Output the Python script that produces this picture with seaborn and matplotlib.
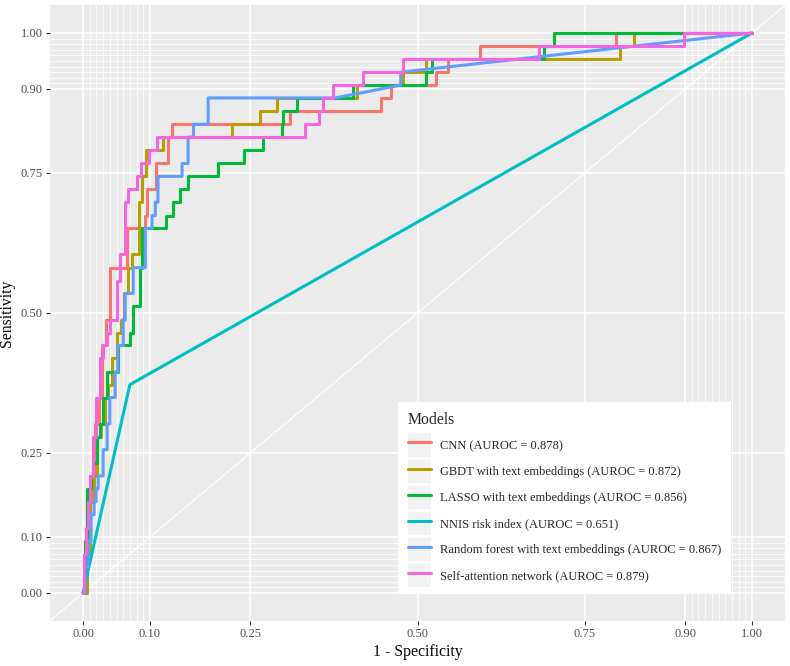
import numpy as np
import pandas as pd
import matplotlib
matplotlib.use("Agg")
import matplotlib.pyplot as plt
import seaborn as sns
from matplotlib.lines import Line2D
from matplotlib.patches import Rectangle
from matplotlib.legend_handler import HandlerLine2D
from matplotlib.ticker import FixedLocator

# model names as shown in the legend
models = ["CNN (AUROC = 0.878)",
          "GBDT with text embeddings (AUROC = 0.872)",
          "LASSO with text embeddings (AUROC = 0.856)",
          "NNIS risk index (AUROC = 0.651)",
          "Random forest with text embeddings (AUROC = 0.867)",
          "Self-attention network (AUROC = 0.879)"]
colors = ["#F8766D", "#B79F00", "#00BA38", "#00BFC4", "#619CFF", "#F564E3"]

# ROC points (1 - specificity, sensitivity)
cnn_fpr = [0, .003, .003, .0075, .0075, .012, .012, .018, .018, .024, .024, .028, .028, .034, .034,
           .040, .040, .066, .066, .093, .093, .096, .096, .109, .109, .127, .127, .133, .133, .310,
           .310, .445, .445, .460, .460, .527, .527, .546, .546, .594, .594, .796, .796, 1.0]
cnn_tpr = [0, 0, .093, .093, .163, .163, .209, .209, .302, .302, .349, .349, .442, .442, .488,
           .488, .581, .581, .651, .651, .674, .674, .721, .721, .767, .767, .814, .814, .837, .837,
           .860, .860, .884, .884, .907, .907, .930, .930, .953, .953, .977, .977, 1.0, 1.0]

gbdt_fpr = [0, .006, .006, .0105, .0105, .0165, .0165, .021, .021, .027, .027, .033, .033, .037, .037,
            .043, .043, .051, .051, .057, .057, .061, .061, .067, .067, .073, .073, .084, .084, .088,
            .088, .094, .094, .120, .120, .223, .223, .265, .265, .290, .290, .410, .410, .479, .479,
            .512, .512, .802, .802, .823, .823, 1.0]
gbdt_tpr = [0, 0, .070, .070, .163, .163, .209, .209, .279, .279, .302, .302, .349, .349, .372,
            .372, .419, .419, .465, .465, .488, .488, .535, .535, .581, .581, .605, .605, .698, .698,
            .744, .744, .791, .791, .814, .814, .837, .837, .860, .860, .884, .884, .907, .907, .930,
            .930, .953, .953, .977, .977, 1.0, 1.0]

lasso_fpr = [0, .003, .003, .006, .006, .012, .012, .015, .015, .021, .021, .0255, .0255, .030, .030,
             .036, .036, .052, .052, .070, .070, .075, .075, .085, .085, .088, .088, .124, .124, .135,
             .135, .145, .145, .157, .157, .202, .202, .240, .240, .269, .269, .298, .298, .299, .299,
             .320, .320, .404, .404, .512, .512, .522, .522, .689, .689, .704, .704, 1.0]
lasso_tpr = [0, 0, .093, .093, .186, .186, .209, .209, .233, .233, .279, .279, .302, .302, .349,
             .349, .395, .395, .442, .442, .465, .465, .512, .512, .581, .581, .651, .651, .674, .674,
             .698, .698, .721, .721, .744, .744, .767, .767, .791, .791, .814, .814, .837, .837, .860,
             .860, .884, .884, .907, .907, .930, .930, .953, .953, .977, .977, 1.0, 1.0]

nnis_fpr = [0, .070, 1.0]
nnis_tpr = [0, .372, 1.0]

rf_fpr = [0, .003, .003, .0075, .0075, .012, .012, .0165, .0165, .0195, .0195, .0225, .0225, .030, .030,
          .036, .036, .040, .040, .048, .048, .052, .052, .060, .060, .063, .063, .075, .075, .093,
          .093, .103, .103, .108, .108, .112, .112, .148, .148, .157, .157, .165, .165, .187, .187,
          .377, .475, .475, 1.0]
rf_tpr = [0, 0, .047, .047, .093, .093, .140, .140, .163, .163, .186, .186, .209, .209, .256,
          .256, .302, .302, .349, .349, .395, .395, .442, .442, .488, .488, .535, .535, .581, .581,
          .651, .651, .674, .674, .698, .698, .744, .744, .767, .767, .814, .814, .837, .837, .884,
          .884, .907, .930, 1.0]

sa_fpr = [0, .0015, .0015, .0045, .0045, .0075, .0075, .0105, .0105, .015, .015, .0195, .0195, .0255, .0255,
          .030, .030, .036, .036, .040, .040, .051, .051, .055, .055, .063, .063, .067, .067, .081,
          .081, .087, .087, .099, .099, .111, .111, .332, .332, .352, .352, .359, .359, .374, .374,
          .418, .418, .479, .479, .681, .681, .898, .898, 1.0]
sa_tpr = [0, 0, .070, .070, .116, .116, .163, .163, .209, .209, .279, .279, .349, .349, .419,
          .419, .442, .442, .465, .465, .488, .488, .558, .558, .605, .605, .698, .698, .721, .721,
          .744, .744, .767, .767, .791, .791, .814, .814, .837, .837, .860, .860, .884, .884, .907,
          .907, .930, .930, .953, .953, .977, .977, 1.0, 1.0]

fprs = [cnn_fpr, gbdt_fpr, lasso_fpr, nnis_fpr, rf_fpr, sa_fpr]
tprs = [cnn_tpr, gbdt_tpr, lasso_tpr, nnis_tpr, rf_tpr, sa_tpr]

frames = []
for name, f, t in zip(models, fprs, tprs):
    frames.append(pd.DataFrame({"fpr": f, "tpr": t, "Models": name}))
df = pd.concat(frames, ignore_index=True)

sns.set_theme(style="darkgrid")
plt.rcParams["font.family"] = ["Liberation Serif", "DejaVu Serif"]
plt.rcParams["axes.facecolor"] = "#EBEBEB"

fig = plt.figure(figsize=(7.9, 6.66), dpi=100)
ax = fig.add_axes([0.0628, 0.0676, 0.9314, 0.9249])

ax.axline((0, 0), slope=1, color="white", linewidth=0.9, zorder=1.5)
sns.lineplot(data=df, x="fpr", y="tpr", hue="Models", hue_order=models, palette=colors,
             sort=False, estimator=None, linewidth=2.2, legend=False, ax=ax, zorder=2)

breaks = [0, 0.1, 0.25, 0.5, 0.75, 0.9, 1.0]
minor = [round(0.01 * i, 2) for i in range(1, 10)] + [round(0.9 + 0.01 * i, 2) for i in range(1, 10)]
ax.set_xlim(-0.05, 1.05)
ax.set_ylim(-0.05, 1.05)
ax.set_xticks(breaks)
ax.set_yticks(breaks)
ax.set_xticklabels(["%.2f" % b for b in breaks])
ax.set_yticklabels(["%.2f" % b for b in breaks])
ax.xaxis.set_minor_locator(FixedLocator(minor))
ax.yaxis.set_minor_locator(FixedLocator(minor))
ax.grid(which="major", color="white", linewidth=1.1)
ax.grid(which="minor", color="white", linewidth=0.55)
ax.set_axisbelow(True)
for s in ax.spines.values():
    s.set_visible(False)
ax.tick_params(which="major", length=3, width=0.8, color="#333333", labelcolor="#4D4D4D",
               labelsize=9, pad=2, bottom=True, left=True)
ax.tick_params(which="minor", length=0)
ax.set_xlabel("1 - Specificity", fontsize=11.3, color="black", labelpad=3)
ax.set_ylabel("Sensitivity", fontsize=11.3, color="black", labelpad=4)


class KeyHandler(HandlerLine2D):
    # grey square behind each legend key, like ggplot
    def create_artists(self, legend, orig_handle, xdescent, ydescent, width, height, fontsize, trans):
        d = 0.2 * fontsize
        bg = Rectangle((-xdescent, -ydescent - d), width, height + 2 * d, facecolor="#F2F2F2",
                       edgecolor="none", transform=trans)
        arts = super().create_artists(legend, orig_handle, xdescent, ydescent, width, height,
                                      fontsize, trans)
        return [bg] + list(arts)


handles = [Line2D([], [], color=c, linewidth=2.2) for c in colors]
leg = ax.legend(handles, models, title="Models", loc="lower left",
                bbox_to_anchor=(0.4735, 0.0438), fontsize=9, title_fontsize=11.3,
                alignment="left", frameon=True, fancybox=False, framealpha=1,
                handlelength=1.9, handleheight=1.85, handletextpad=0.7,
                labelspacing=0.64, borderpad=0.76, borderaxespad=0,
                handler_map={Line2D: KeyHandler()})
leg.get_frame().set_facecolor("white")
leg.get_frame().set_edgecolor("none")

fig.savefig("out.png", dpi=100)
